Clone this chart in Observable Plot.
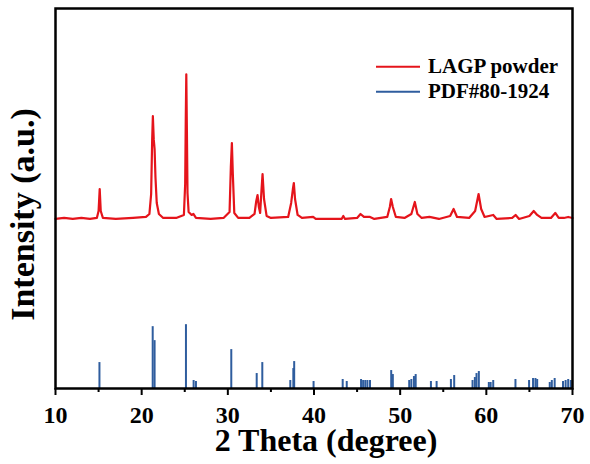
<!DOCTYPE html>
<html>
<head>
<meta charset="utf-8">
<script src="https://cdn.jsdelivr.net/npm/d3@7"></script>
<script src="https://cdn.jsdelivr.net/npm/@observablehq/plot@0.6"></script>
<style>
  html, body { margin: 0; padding: 0; background: #fff; overflow: hidden; }
  #chart svg { display: block; max-width: none !important; }
</style>
</head>
<body>
<div id="chart"></div>
<script>
// ---- Data ----
// Measured XRD pattern of LAGP powder (2θ in degrees, intensity in a.u.)
const lagpTheta = [
  10.0, 11.0, 12.0, 13.0, 14.0, 14.8, 15.0, 15.13, 15.25, 15.5,
  17.0, 19.0, 20.5, 20.9, 21.1, 21.22, 21.3, 21.4, 21.5, 21.6,
  21.75, 22.0, 22.5, 24.0, 24.9, 25.05, 25.12, 25.18, 25.25, 25.32,
  25.45, 25.8, 26.0, 26.3, 28.0, 29.5, 30.2, 30.35, 30.47, 30.58,
  30.75, 31.2, 32.5, 33.1, 33.3, 33.45, 33.6, 33.75, 33.9, 34.03,
  34.2, 34.5, 35.0, 37.0, 37.35, 37.55, 37.66, 37.8, 38.1, 38.6,
  39.9, 40.2, 42.0, 43.2, 43.4, 43.6, 45.0, 45.4, 45.8, 46.5,
  47.0, 48.5, 48.8, 48.95, 49.15, 49.5, 50.5, 51.3, 51.7, 52.0,
  52.5, 53.4, 54.5, 55.8, 56.2, 56.6, 58.0, 58.7, 59.1, 59.4,
  59.8, 60.8, 61.2, 63.0, 63.4, 63.8, 65.0, 65.5, 65.9, 66.4,
  67.5, 68.0, 68.4, 69.0, 69.5, 70.0
];
const lagpIntensity = [
  170, 171, 170, 171, 170, 171, 178, 200, 178, 171,
  170, 171, 172, 175, 195, 250, 273, 250, 240, 212,
  186, 175, 171, 171, 174, 205, 272, 315, 258, 196,
  177, 174, 175, 171, 170, 171, 177, 222, 246, 215,
  176, 171, 171, 175, 188, 194, 182, 176, 198, 215,
  190, 173, 171, 172, 186, 200, 206, 190, 174, 171,
  172, 170, 170, 170, 173, 170, 171, 175, 172, 172,
  170, 172, 182, 190, 182, 172, 171, 175, 187, 175,
  171, 172, 170, 173, 180, 172, 171, 178, 195, 180,
  172, 174, 170, 171, 174, 170, 173, 178, 174, 171,
  171, 176, 171, 171, 172, 171
];

// Reference pattern PDF#80-1924 (stick positions and heights)
const pdfTheta = [
  15.1, 21.28, 21.5, 25.14, 26.03, 26.3, 30.4, 33.35, 34.0, 37.25,
  37.6, 37.7, 39.95, 43.33, 43.8, 45.46, 45.7, 45.95, 46.2, 46.5,
  48.96, 49.15, 51.05, 51.3, 51.6, 51.8, 53.57, 54.23, 55.89, 56.27,
  58.4, 58.67, 58.86, 59.13, 60.29, 60.5, 60.8, 63.38, 64.96, 65.42,
  65.7, 65.9, 67.36, 67.6, 67.93, 68.9, 69.2, 69.5, 69.8
];
const pdfIntensity = [
  26, 62, 48, 64, 8, 7, 39, 15, 26, 8,
  20, 27, 7, 9, 7, 9, 8, 8, 8, 8,
  18, 14, 8, 9, 12, 14, 7, 7, 9, 13,
  8, 11, 15, 17, 6, 6, 8, 9, 8, 10,
  10, 9, 6, 8, 10, 7, 8, 9, 8
];

const xDomain = [10, 70];
const yDomain = [0, 381];
const majorTicks = [10, 20, 30, 40, 50, 60, 70];
const minorTicks = [15, 25, 35, 45, 55, 65];
const xTitle = "2 Theta (degree)";
const yTitle = "Intensity (a.u.)";
const seriesNames = ["LAGP powder", "PDF#80-1924"];
const seriesColors = ["#e5141b", "#2f5d9e"];

// ---- Tables built from the arrays ----
const lagp = lagpTheta.map((t, i) => ({theta: t, intensity: lagpIntensity[i]}));
const pdf = pdfTheta.map((t, i) => ({theta: t, intensity: pdfIntensity[i]}));

const font = "'Liberation Serif', 'Times New Roman', serif";

const svg = Plot.plot({
  width: 590,
  height: 464,
  marginLeft: 55,
  marginRight: 18,
  marginTop: 8,
  marginBottom: 76,
  style: {fontFamily: font, fontWeight: "bold", color: "black", background: "white", maxWidth: "none"},
  x: {domain: xDomain},
  y: {domain: yDomain, axis: null},
  marks: [
    Plot.ruleX(pdf, {x: "theta", y1: 0, y2: "intensity", stroke: seriesColors[1], strokeWidth: 2}),
    Plot.line(lagp, {x: "theta", y: "intensity", stroke: seriesColors[0], strokeWidth: 2.2}),
    Plot.frame({stroke: "black", strokeWidth: 2.5, fill: "none"}),
    Plot.axisX(minorTicks, {anchor: "bottom", tickSize: 4, strokeWidth: 2, tickFormat: () => "", label: null}),
    Plot.axisX(majorTicks, {anchor: "bottom", tickSize: 7, strokeWidth: 2, tickPadding: 10, fontSize: 24, tickFormat: d => String(d), label: null}),
    Plot.text([xTitle], {frameAnchor: "bottom", text: d => d, textAnchor: "middle", lineAnchor: "middle", dx: 12, dy: 52, fontSize: 32, fontWeight: "bold", fill: "black"}),
    Plot.text([yTitle], {frameAnchor: "left", text: d => d, rotate: -90, textAnchor: "middle", lineAnchor: "middle", dx: -32, dy: 16, fontSize: 34, fontWeight: "bold", fill: "black"})
  ]
});

const sel = d3.select(svg);

// ---- Legend inside the plot area (top right) ----
const legend = sel.append("g")
  .attr("font-family", font).attr("font-weight", "bold").attr("font-size", 21)
  .attr("text-anchor", "start");
seriesNames.forEach((name, i) => {
  const cy = 66.7 + i * 25;
  legend.append("line")
    .attr("x1", 376).attr("x2", 420).attr("y1", cy).attr("y2", cy)
    .attr("stroke", seriesColors[i]).attr("stroke-width", 2);
  legend.append("text")
    .attr("x", 428).attr("y", cy + 6.5)
    .attr("fill", "black")
    .text(name);
});

document.getElementById("chart").appendChild(svg);
</script>
</body>
</html>
